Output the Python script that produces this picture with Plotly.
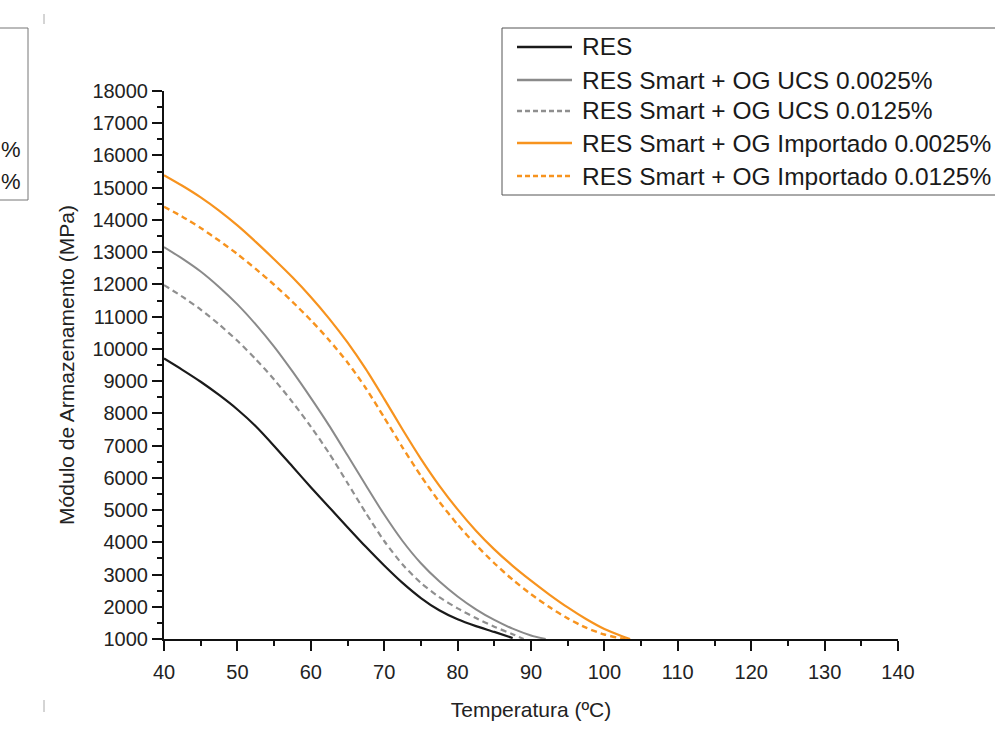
import plotly.graph_objects as go

# ---- data ----
temp_res = [40, 42.5, 45, 47.5, 50, 52.5, 55, 57.5, 60, 62.5, 65, 67.5, 70, 72.5, 75, 77.5, 80, 82.5, 85, 87.5]
mod_res = [9700, 9350, 8980, 8570, 8120, 7600, 6990, 6350, 5710, 5090, 4470, 3860, 3280, 2740, 2270, 1890, 1610, 1400, 1220, 1030]

temp_ucs1 = [40, 42.5, 45, 47.5, 50, 52.5, 55, 57.5, 60, 62.5, 65, 67.5, 70, 72.5, 75, 77.5, 80, 82.5, 85, 87.5, 90, 92]
mod_ucs1 = [13160, 12800, 12400, 11920, 11380, 10760, 10070, 9300, 8480, 7620, 6700, 5770, 4860, 4040, 3350, 2790, 2320, 1920, 1590, 1320, 1110, 1000]

temp_ucs2 = [40, 42.5, 45, 47.5, 50, 52.5, 55, 57.5, 60, 62.5, 65, 67.5, 70, 72.5, 75, 77.5, 80, 82.5, 85, 87.5, 89]
mod_ucs2 = [11980, 11620, 11220, 10760, 10250, 9680, 9050, 8350, 7590, 6760, 5840, 4910, 4040, 3310, 2740, 2300, 1950, 1650, 1380, 1150, 1000]

temp_imp1 = [40, 42.5, 45, 47.5, 50, 52.5, 55, 57.5, 60, 62.5, 65, 67.5, 70, 72.5, 75, 77.5, 80, 82.5, 85, 87.5, 90, 92.5, 95, 97.5, 100, 102.5, 103.5]
mod_imp1 = [15390, 15060, 14700, 14290, 13830, 13320, 12780, 12220, 11610, 10940, 10200, 9370, 8450, 7500, 6590, 5760, 5020, 4360, 3780, 3270, 2810, 2380, 1980, 1620, 1310, 1080, 1000]

temp_imp2 = [40, 42.5, 45, 47.5, 50, 52.5, 55, 57.5, 60, 62.5, 65, 67.5, 70, 72.5, 75, 77.5, 80, 82.5, 85, 87.5, 90, 92.5, 95, 97.5, 100, 102.5, 103]
mod_imp2 = [14410, 14100, 13750, 13360, 12940, 12480, 11990, 11460, 10890, 10270, 9580, 8780, 7870, 6940, 6060, 5260, 4550, 3920, 3350, 2840, 2390, 1990, 1640, 1350, 1140, 1010, 1000]

names = [
    "RES",
    "RES Smart + OG UCS 0.0025%",
    "RES Smart + OG UCS 0.0125%",
    "RES Smart + OG Importado 0.0025%",
    "RES Smart + OG Importado 0.0125%",
]
colors = ["#1a1a1a", "#8a8a8a", "#8f8f8f", "#f7931e", "#f7931e"]
dashes = ["solid", "solid", "6px,4px", "solid", "6px,4px"]
widths = [2.2, 2.0, 2.2, 2.2, 2.4]

x_title = "Temperatura (ºC)"
y_title = "Módulo de Armazenamento (MPa)"
x_ticks = [40, 50, 60, 70, 80, 90, 100, 110, 120, 130, 140]
y_ticks = list(range(1000, 18001, 1000))

series = [
    (temp_res, mod_res),
    (temp_ucs1, mod_ucs1),
    (temp_ucs2, mod_ucs2),
    (temp_imp1, mod_imp1),
    (temp_imp2, mod_imp2),
]

FONT = "Liberation Sans, Arial, sans-serif"

fig = go.Figure()
for (xs, ys), nm, c, d, w in zip(series, names, colors, dashes, widths):
    fig.add_trace(go.Scatter(
        x=xs, y=ys, name=nm, mode="lines",
        line=dict(color=c, dash=d, width=w, shape="spline", smoothing=0.7),
        cliponaxis=True, showlegend=False,
    ))

W, H = 995, 742
L, R, T, B = 164, 97, 91, 103
pw, ph = W - L - R, H - T - B


def px_x(p):
    return (p - L) / pw


def px_y(p):
    return (H - B - p) / ph


fig.update_layout(
    width=W, height=H,
    margin=dict(l=L, r=R, t=T, b=B, pad=0),
    paper_bgcolor="white", plot_bgcolor="white",
    font=dict(family=FONT, color="#222222", size=20),
    showlegend=False,
    xaxis=dict(
        range=[40, 140], tickvals=x_ticks, ticktext=[str(v) for v in x_ticks],
        showgrid=False, zeroline=False,
        showline=True, linecolor="#111111", linewidth=2,
        ticks="outside", ticklen=10, tickwidth=2, tickcolor="#111111",
        minor=dict(ticks="outside", ticklen=5, tickwidth=2, dtick=5, tickcolor="#111111"),
        tickfont=dict(size=20, color="#222222"),
        title=dict(text=x_title, font=dict(size=21, color="#222222"), standoff=20),
        automargin=False, ticklabelstandoff=4,
    ),
    yaxis=dict(
        range=[1000, 18000], tickvals=y_ticks, ticktext=[str(v) for v in y_ticks],
        showgrid=False, zeroline=False,
        showline=True, linecolor="#111111", linewidth=2,
        ticks="outside", ticklen=10, tickwidth=2, tickcolor="#111111",
        minor=dict(ticks="outside", ticklen=5, tickwidth=2, dtick=500, tickcolor="#111111"),
        tickfont=dict(size=20, color="#222222"),
        title=dict(text=y_title, font=dict(size=21, color="#222222"), standoff=12),
        automargin=False,
    ),
)

# ---- legend box (drawn so that it runs off the right edge as in the reference) ----
leg_left, leg_top, leg_bottom = 502, 28, 195
row_y = [47, 80, 111, 143, 176]
fig.add_shape(type="rect", xref="paper", yref="paper",
              x0=px_x(leg_left), x1=px_x(1010), y0=px_y(leg_bottom), y1=px_y(leg_top),
              line=dict(color="#555555", width=1), fillcolor="white", layer="above")
leg_dash = ["solid", "solid", "5px,3px", "solid", "5px,3px"]
for nm, c, d, w, yy in zip(names, colors, leg_dash, widths, row_y):
    fig.add_shape(type="line", xref="paper", yref="paper",
                  x0=px_x(517), x1=px_x(572), y0=px_y(yy), y1=px_y(yy),
                  line=dict(color=c, dash=d, width=w + 0.3), layer="above")
    fig.add_annotation(xref="paper", yref="paper", x=px_x(580), y=px_y(yy),
                       xanchor="left", yanchor="middle", showarrow=False,
                       text=nm, font=dict(family=FONT, size=24.5, color="#1a1a1a"))

# fragment of a neighbouring legend box at the left edge of the picture
fig.add_shape(type="rect", xref="paper", yref="paper",
              x0=px_x(-20), x1=px_x(28), y0=px_y(200), y1=px_y(28),
              line=dict(color="#777777", width=1), fillcolor="rgba(0,0,0,0)")
for yy in [149, 181]:
    fig.add_annotation(xref="paper", yref="paper", x=px_x(-1), y=px_y(yy),
                       xanchor="left", yanchor="middle", showarrow=False,
                       text="%", font=dict(family=FONT, size=22, color="#1a1a1a"))

# crop marks
for y0, y1 in [(14, 24), (700, 712)]:
    fig.add_shape(type="line", xref="paper", yref="paper",
                  x0=px_x(44), x1=px_x(44), y0=px_y(y0), y1=px_y(y1),
                  line=dict(color="#aaaaaa", width=1))

fig.write_html(
    "out.html",
    config={"displayModeBar": False},
    post_script="document.body.style.margin='0px';document.body.style.overflow='hidden';",
)
